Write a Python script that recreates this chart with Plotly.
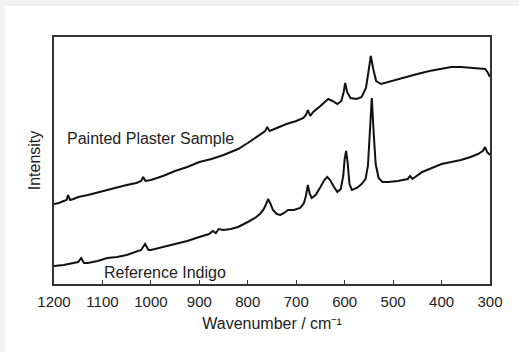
import plotly.graph_objects as go

# Painted plaster sample spectrum (wavenumber, relative intensity)
sample_x = [1200,1190,1180,1174,1171,1167,1160,1150,1130,1100,1075,1050,1030,1020,1016,1011,1000,975,950,925,900,875,850,820,800,780,770,764,760,755,745,720,700,685,680,676,671,665,650,640,634,625,615,607,602,599,595,588,575,565,556,550,546,541,535,525,510,490,470,450,425,400,380,360,340,320,310,304,300]
sample_y = [80,81,83,84,89,84,85,87,89,93,96,99,101,103,107,103,104,108,113,117,122,125,129,135,141,148,151,153,157,153,155,160,163,166,169,174,168,172,178,183,185,183,180,183,192,201,192,186,185,187,196,215,228,215,203,200,202,205,208,210,213,215,217,217,216,215,215,211,207]

# Reference indigo spectrum
ref_x = [1200,1180,1160,1150,1144,1138,1130,1110,1090,1070,1050,1030,1020,1012,1005,1000,975,950,925,900,880,872,866,860,850,835,820,800,785,775,768,763,758,753,748,740,733,725,717,705,692,684,680,676,672,668,660,650,642,636,630,622,615,608,603,600,597,594,590,585,575,565,557,552,548,544,540,536,530,522,510,490,470,465,460,440,420,400,380,360,340,325,315,310,306,300]
ref_y = [18,19,21,22,26,21,21,23,26,27,29,32,34,40,34,34,37,40,43,47,50,53,51,55,54,55,57,62,66,70,74,79,85,80,74,70,69,71,74,74,76,81,88,99,90,86,89,97,104,107,104,97,92,95,108,125,133,122,100,94,96,100,105,118,150,186,150,120,106,102,102,103,105,108,105,112,116,120,122,124,127,130,133,137,132,129]

tick_vals = [1200,1100,1000,900,800,700,600,500,400,300]
tick_text = [str(v) for v in tick_vals]

FONT = "Liberation Sans, Arial, Helvetica, sans-serif"

fig = go.Figure()
fig.add_trace(go.Scatter(x=sample_x, y=sample_y, mode="lines",
                         line=dict(color="#111111", width=2), showlegend=False))
fig.add_trace(go.Scatter(x=ref_x, y=ref_y, mode="lines",
                         line=dict(color="#111111", width=2), showlegend=False))

fig.add_annotation(x=1178, y=146, xref="x", yref="y", text="Painted Plaster Sample",
                   showarrow=False, xanchor="left", yanchor="middle",
                   font=dict(family=FONT, size=16, color="#222222"))
fig.add_annotation(x=1100, y=12, xref="x", yref="y", text="Reference Indigo",
                   showarrow=False, xanchor="left", yanchor="middle",
                   font=dict(family=FONT, size=16, color="#222222"))

# outer frame: light grey strip at top/left, white page
fig.add_shape(type="rect", xref="paper", yref="paper",
              x0=-0.1124, x1=1.07, y0=-0.28, y1=1.1255,
              fillcolor="white", line=dict(width=0), layer="below")

fig.update_layout(
    width=519, height=352,
    margin=dict(l=54, r=29, t=37, b=68),
    paper_bgcolor="#f3f3f3", plot_bgcolor="white",
    font=dict(family=FONT, color="#222222"),
    xaxis=dict(range=[1200, 300], tickvals=tick_vals, ticktext=tick_text,
               ticks="inside", ticklen=4, tickcolor="#333333", tickwidth=1,
               ticklabelstandoff=3,
               showline=True, linecolor="#333333", linewidth=1.5, mirror=True,
               showgrid=False, zeroline=False,
               tickfont=dict(family=FONT, size=15, color="#222222"),
               title=dict(text="Wavenumber / cm⁻¹", standoff=9,
                          font=dict(family=FONT, size=16, color="#222222"))),
    yaxis=dict(range=[0, 247], showticklabels=False, ticks="",
               showline=True, linecolor="#333333", linewidth=1.5, mirror=True,
               showgrid=False, zeroline=False,
               title=dict(text="Intensity", standoff=8,
                          font=dict(family=FONT, size=16, color="#222222"))),
)

fig.write_html("out.html")
